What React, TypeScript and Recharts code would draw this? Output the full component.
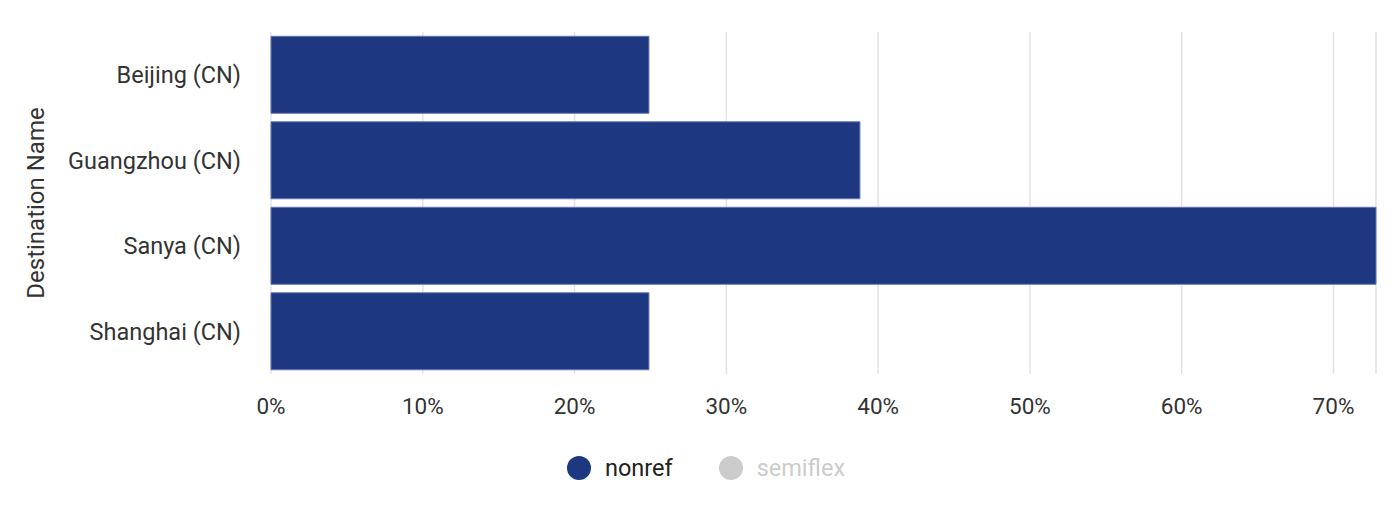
import { BarChart, Bar, XAxis, YAxis, CartesianGrid, Legend } from 'recharts';

const destinations = ['Beijing (CN)', 'Guangzhou (CN)', 'Sanya (CN)', 'Shanghai (CN)'];
const nonrefShare = [0.249, 0.388, 0.728, 0.249];
const xTicks = [0, 0.1, 0.2, 0.3, 0.4, 0.5, 0.6, 0.7];
const legendItems = [
    { name: 'nonref', color: '#1e3781', text: '#222222' },
    { name: 'semiflex', color: '#cccccc', text: '#cccccc' },
];

const data = destinations.map((name, i) => ({ name, nonref: nonrefShare[i] }));

const FONT = 'Roboto, "Noto Sans", sans-serif';

function ChartLegend() {
    return (
        <div style={{ display: 'flex', justifyContent: 'center', alignItems: 'center', height: 70, paddingLeft: 36, fontFamily: FONT, fontSize: 23.5 }}>
            {legendItems.map(item => (
                <div key={item.name} style={{ display: 'flex', alignItems: 'center', margin: '0 23px' }}>
                    <span style={{ width: 24, height: 24, borderRadius: '50%', background: item.color, marginRight: 14 }} />
                    <span style={{ color: item.text }}>{item.name}</span>
                </div>
            ))}
        </div>
    );
}

export default function App() {
    return (
        <div style={{ position: 'absolute', left: 0, top: 0, background: '#fff' }}>
            <BarChart
                width={1400}
                height={518}
                data={data}
                layout="vertical"
                barCategoryGap="5%"
                margin={{ top: 32, right: 24, bottom: 15, left: 0 }}
            >
                <CartesianGrid horizontal={false} stroke="#e3e3e3" strokeWidth={1.5} />
                <XAxis
                    type="number"
                    domain={[0, 'dataMax']}
                    ticks={xTicks}
                    tickFormatter={v => `${Math.round(v * 100)}%`}
                    axisLine={false}
                    tickLine={false}
                    tickMargin={18}
                    height={59}
                    tick={{ fill: '#333', fontSize: 22.5, fontFamily: FONT }}
                />
                <YAxis
                    type="category"
                    dataKey="name"
                    width={271}
                    axisLine={false}
                    tickLine={false}
                    tickMargin={24}
                    tick={{ fill: '#333', fontSize: 23.5, fontFamily: FONT }}
                    label={{ value: 'Destination Name', angle: -90, position: 'insideLeft', offset: 35, style: { textAnchor: 'middle', fill: '#333', fontSize: 24, fontFamily: FONT } }}
                />
                <Bar dataKey="nonref" fill="#1e3781" stroke="#6576b4" strokeWidth={1} isAnimationActive={false} />
                <Legend verticalAlign="bottom" content={() => <ChartLegend />} />
            </BarChart>
        </div>
    );
}
